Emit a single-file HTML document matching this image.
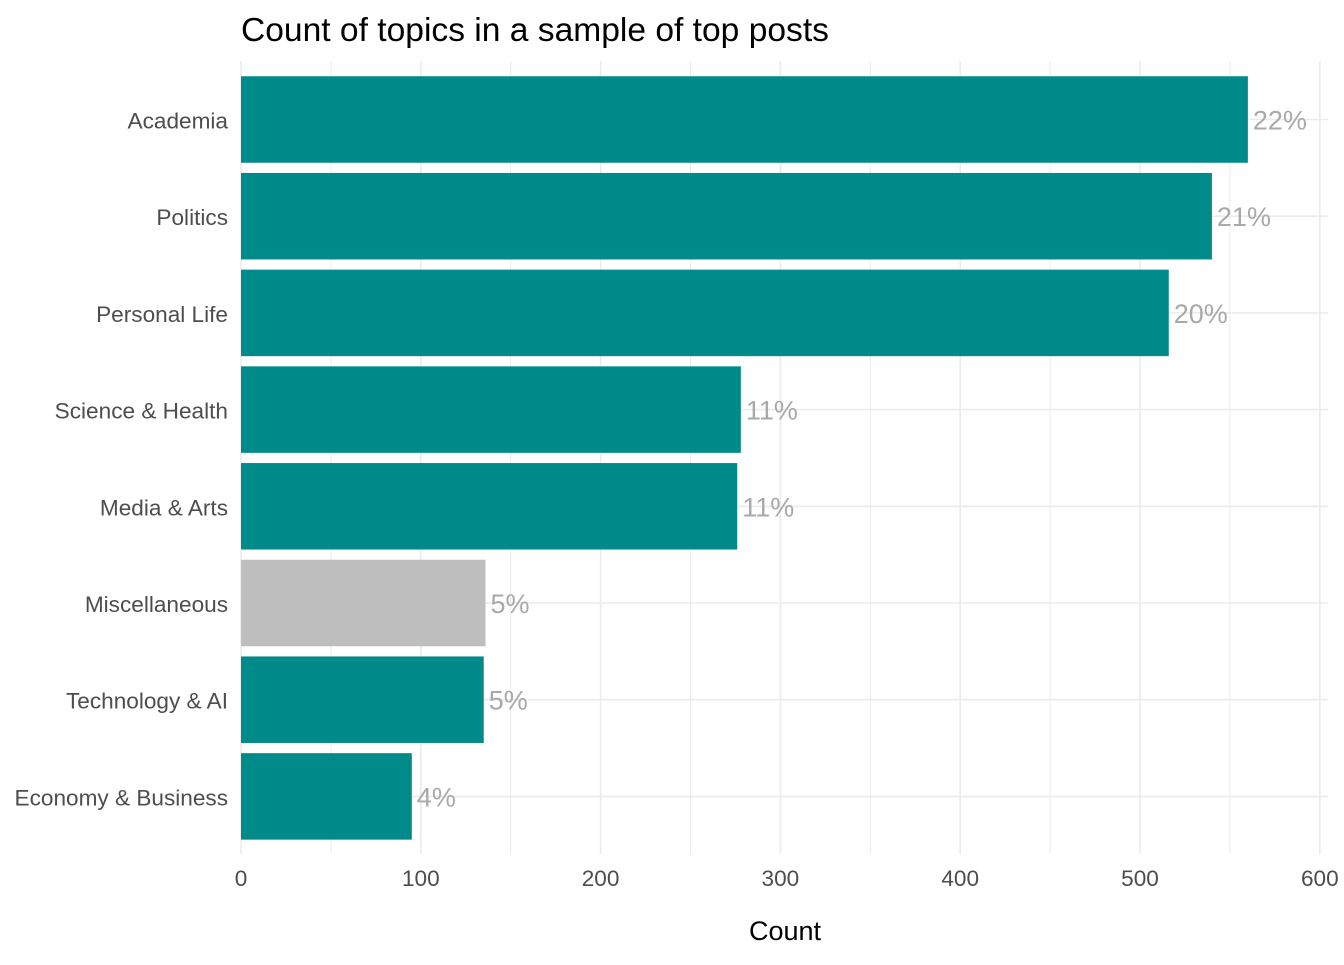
<!DOCTYPE html>
<html><head><meta charset="utf-8"><style>
body{margin:0;background:#fff;font-family:"Liberation Sans",Arial,sans-serif}
</style></head><body>
<svg id="chart" width="1344" height="960" xmlns="http://www.w3.org/2000/svg" font-family="Liberation Sans, Arial, sans-serif">
<text x="241" y="41" font-size="33.6" fill="#000">Count of topics in a sample of top posts</text>
<g id="grid"></g><g id="bars"></g><g id="labels"></g><g id="axes"></g>
<text x="785" y="940" font-size="27" text-anchor="middle" fill="#000">Count</text>
</svg>
<script>
const categories=["Academia","Politics","Personal Life","Science & Health","Media & Arts","Miscellaneous","Technology & AI","Economy & Business"];
const counts=[560,540,516,278,276,136,135,95];
const percents=["22%","21%","20%","11%","11%","5%","5%","4%"];
const highlight=[true,true,true,true,true,false,true,true];
const xTicks=[0,100,200,300,400,500,600];
const NS="http://www.w3.org/2000/svg";
const x0=241,pxPer=1.798,panelTop=61,panelBot=854,panelRight=1328;
const band=96.7;
const xs=v=>x0+v*pxPer;
const yc=i=>119.5+i*band;
function mk(tag,attrs,parent){const e=document.createElementNS(NS,tag);for(const k in attrs)e.setAttribute(k,attrs[k]);document.getElementById(parent).appendChild(e);return e;}
for(let v=0;v<=600;v+=50){const l=mk("line",{x1:xs(v),x2:xs(v),y1:panelTop,y2:panelBot,stroke:"#ebebeb","stroke-width":v%100?1:1.6},"grid");

}
categories.forEach((c,i)=>{
const g=mk("line",{x1:x0,x2:panelRight,y1:yc(i),y2:yc(i),stroke:"#ebebeb","stroke-width":1.6},"grid");


const h=86.5;
const r=mk("rect",{x:x0,y:yc(i)-h/2,width:xs(counts[i])-x0,height:h,fill:highlight[i]?"#008b8a":"#bebebe"},"bars");


const t=mk("text",{x:xs(counts[i])+5,y:yc(i)+10,"font-size":27,fill:"#a9a9a9"},"labels");t.textContent=percents[i];


const yl=mk("text",{x:228,y:yc(i)+9,"font-size":22.6,fill:"#4d4d4d","text-anchor":"end"},"axes");yl.textContent=c;


});
xTicks.forEach(v=>{const t=mk("text",{x:xs(v),y:886,"font-size":22.6,fill:"#4d4d4d","text-anchor":"middle"},"axes");t.textContent=v;

});
</script>
</body></html>
